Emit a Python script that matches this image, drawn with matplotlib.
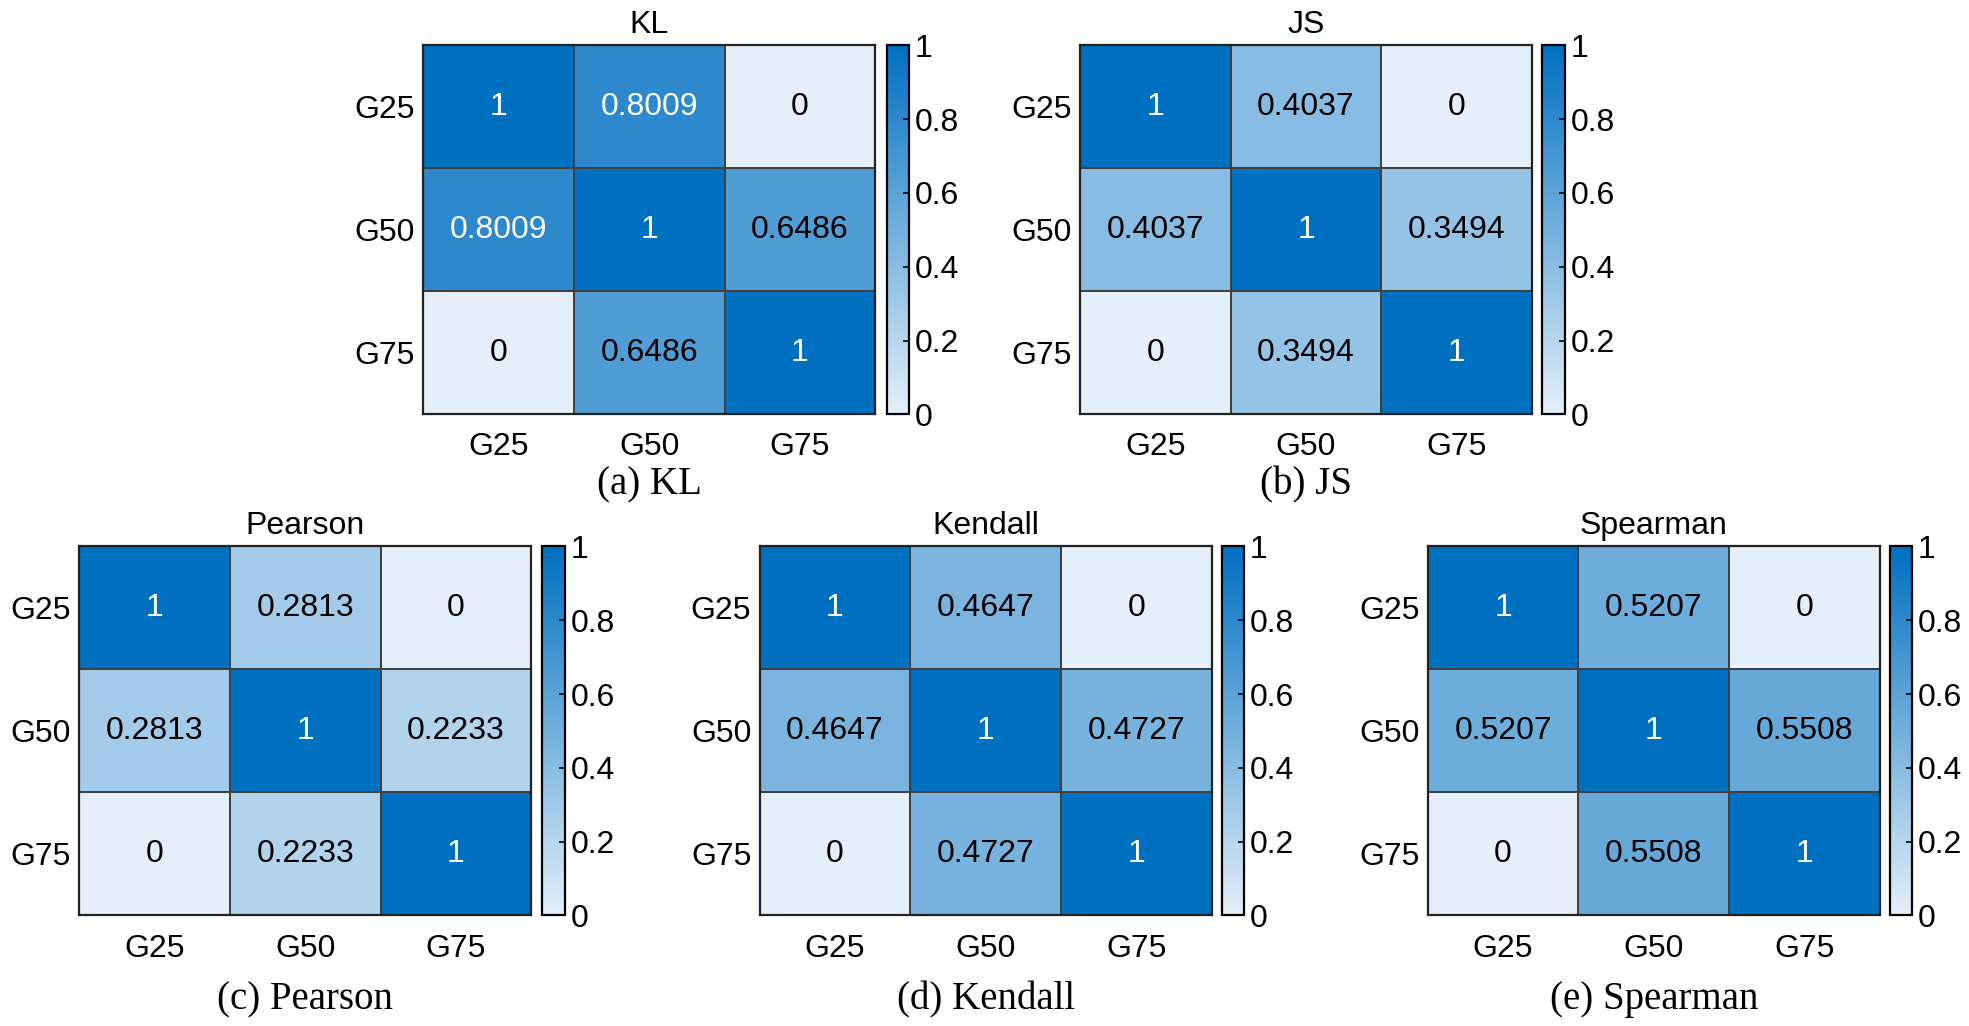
import matplotlib
matplotlib.use('Agg')
import matplotlib.pyplot as plt
from matplotlib.colors import LinearSegmentedColormap
import numpy as np

groups = ['G25', 'G50', 'G75']
titles = ['KL', 'JS', 'Pearson', 'Kendall', 'Spearman']
captions = ['(a) KL', '(b) JS', '(c) Pearson', '(d) Kendall', '(e) Spearman']

# similarity matrices
kl = [[1, 0.8009, 0], [0.8009, 1, 0.6486], [0, 0.6486, 1]]
js = [[1, 0.4037, 0], [0.4037, 1, 0.3494], [0, 0.3494, 1]]
pearson = [[1, 0.2813, 0], [0.2813, 1, 0.2233], [0, 0.2233, 1]]
kendall = [[1, 0.4647, 0], [0.4647, 1, 0.4727], [0, 0.4727, 1]]
spearman = [[1, 0.5207, 0], [0.5207, 1, 0.5508], [0, 0.5508, 1]]
matrices = [kl, js, pearson, kendall, spearman]

cmap = LinearSegmentedColormap.from_list('blues', ['#e4eff9', '#0070c0'])

plt.rcParams['font.family'] = ['Liberation Sans', 'DejaVu Sans']

fig = plt.figure(figsize=(19.69, 10.26), dpi=100)

# left, bottom of heatmap axes, left of colorbar, caption y (axes fraction)
top_b = 0.5961
bot_b = 0.1077
axh = 0.3598
axw = 0.2296
cbw = 0.0115
layout = [
    (0.2149, top_b, 0.4503, -0.19),
    (0.5485, top_b, 0.7832, -0.19),
    (0.0402, bot_b, 0.2755, -0.228),
    (0.3858, bot_b, 0.6205, -0.228),
    (0.7251, bot_b, 0.9598, -0.228),
]

fs = 23
for k in range(5):
    left, bottom, cbl, capy = layout[k]
    vals = np.array(matrices[k], dtype=float)
    ax = fig.add_axes([left, bottom, axw, axh])
    mesh = ax.pcolormesh(vals, cmap=cmap, vmin=0, vmax=1,
                         edgecolors='#404040', linewidth=1.2)
    ax.set_xlim(0, 3)
    ax.set_ylim(3, 0)
    ax.set_xticks([0.5, 1.5, 2.5])
    ax.set_yticks([0.5, 1.5, 2.5])
    ax.set_xticklabels(groups, fontsize=fs)
    ax.set_yticklabels(groups, fontsize=fs)
    ax.tick_params(axis='x', length=0, pad=13)
    ax.tick_params(axis='y', length=0, pad=6)
    for sp in ax.spines.values():
        sp.set_linewidth(1.6)
        sp.set_color('#222222')
    for i in range(3):
        for j in range(3):
            v = vals[i, j]
            ax.text(j + 0.5, i + 0.5, '%g' % v, ha='center', va='center',
                    fontsize=fs, color='white' if v > 0.7 else 'black')
    ax.set_title(titles[k], fontsize=fs, pad=9)
    ax.text(0.5, capy, captions[k], transform=ax.transAxes, ha='center',
            va='center', fontsize=28, family=['Liberation Serif', 'DejaVu Serif'])

    cax = fig.add_axes([cbl, bottom, cbw, axh])
    cb = fig.colorbar(mesh, cax=cax)
    cb.set_ticks([0, 0.2, 0.4, 0.6, 0.8, 1])
    cb.set_ticklabels(['0', '0.2', '0.4', '0.6', '0.8', '1'])
    cax.tick_params(labelsize=fs, direction='in', length=4, width=1.2, pad=4)
    cb.outline.set_linewidth(1.6)

fig.savefig('out.png', dpi=100)
